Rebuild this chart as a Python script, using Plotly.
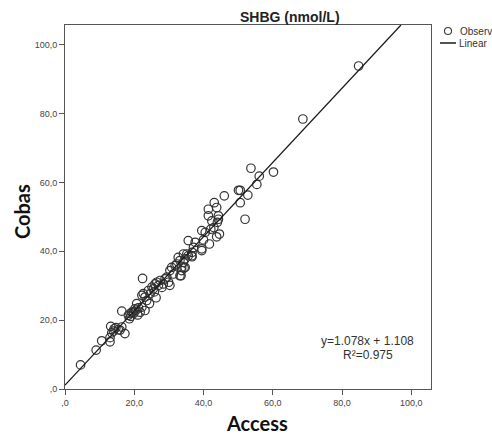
import numpy as np
import plotly.graph_objects as go

access = [4.5, 9.0, 10.6, 13.0, 13.0, 13.5, 13.2, 14.2, 14.7, 15.4, 16.4, 15.9, 17.3,
          16.4, 18.3, 18.8, 19.3, 19.0, 19.7, 20.2, 20.7, 21.2, 21.7, 22.2, 23.1, 22.4,
          22.2, 22.6, 23.1, 23.6, 24.1, 24.4, 24.6, 25.1, 25.5, 26.0, 26.3, 26.5, 27.0,
          27.5, 28.4, 28.9, 29.4, 29.9, 30.3, 30.3, 30.8, 31.3, 31.8, 32.3, 32.7, 33.2,
          33.2, 33.7, 34.2, 34.7, 35.2, 35.6, 36.6, 39.5,
          53.7, 56.1, 60.2, 55.4, 50.1, 50.6, 46.0, 52.8, 50.6, 52.0, 43.1, 41.4, 43.8,
          41.4, 44.3, 42.4, 44.3, 44.0, 39.5, 42.1, 43.0, 44.6, 43.8, 35.6, 37.6, 40.0,
          41.7, 39.5, 37.1, 36.7, 34.2, 34.7, 36.7, 33.7, 34.4, 33.5, 40.5,
          84.8, 68.7, 19.9, 20.5, 21.0, 18.6, 14.0, 25.8, 28.0]
cobas = [7.0, 11.3, 14.0, 13.7, 14.9, 16.3, 18.2, 17.5, 17.8, 17.2, 18.0, 17.1, 16.1,
         22.6, 21.4, 21.9, 22.3, 21.1, 22.3, 23.3, 24.8, 23.6, 22.3, 23.8, 22.8, 32.1,
         27.2, 27.7, 26.7, 25.7, 28.6, 24.8, 27.7, 29.6, 29.1, 30.5, 26.5, 31.0, 30.1,
         31.5, 30.5, 32.0, 32.5, 31.0, 30.1, 34.4, 35.3, 33.4, 35.8, 36.3, 38.2, 37.3,
         32.9, 34.4, 36.8, 35.3, 39.2, 38.7, 38.7, 40.2,
         64.1, 61.8, 63.0, 59.4, 57.7, 57.7, 56.1, 56.3, 54.1, 49.3, 54.1, 52.2, 52.7,
         50.3, 50.3, 48.8, 49.3, 48.4, 46.0, 46.4, 46.9, 45.0, 44.2, 43.1, 42.6, 43.3,
         42.1, 40.7, 41.1, 39.7, 39.2, 37.8, 38.4, 35.4, 35.2, 32.9, 45.5,
         93.8, 78.4, 22.0, 22.9, 21.5, 20.4, 16.8, 28.2, 29.5]

slope = 1.078
intercept = 1.108
r_squared = 0.975

tick_vals = [0, 20, 40, 60, 80, 100]
tick_text = [",0", "20,0", "40,0", "60,0", "80,0", "100,0"]
axis_max = 105.7

fit_x = np.array([0.0, (axis_max - intercept) / slope])
fit_y = slope * fit_x + intercept

fig = go.Figure()
fig.add_trace(go.Scatter(
    x=access, y=cobas, mode="markers", name="Observed",
    marker=dict(symbol="circle-open", size=8.5, color="#333333", line=dict(width=1.2)),
    showlegend=False, cliponaxis=True))
fig.add_trace(go.Scatter(
    x=fit_x, y=fit_y, mode="lines", name="Linear",
    line=dict(color="#1a1a1a", width=1.3), showlegend=False))

tickfont = dict(family="Liberation Sans, Arial, sans-serif", size=9, color="#444444")
axis_common = dict(range=[0, axis_max], tickvals=tick_vals, ticktext=tick_text,
                   showgrid=False, zeroline=False, showline=True, mirror=True,
                   linecolor="#555555", linewidth=1, ticks="outside", ticklen=5,
                   tickcolor="#555555", tickfont=tickfont, automargin=False)
fig.update_xaxes(**axis_common)
fig.update_yaxes(**axis_common)

# Page body margin is removed (post_script), so figure pixels = window pixels.
W, H = 492, 437
ml, mr, mt, mb = 65, 61, 25, 48
pw, ph = W - ml - mr, H - mt - mb
def px(x):  # window pixel -> paper
    return (x - ml) / pw
def py(y):
    return (H - mb - y) / ph

shapes = [
    dict(type="circle", xref="paper", yref="paper",
         x0=px(444.5), x1=px(451.5), y0=py(34.5), y1=py(27.5),
         line=dict(color="#3a3a3a", width=1.1)),
    dict(type="line", xref="paper", yref="paper",
         x0=px(440), x1=px(456), y0=py(43), y1=py(43),
         line=dict(color="#1a1a1a", width=1.5)),
]
legfont = dict(family="Liberation Sans, Arial, sans-serif", size=10, color="#333333")
titlefont = dict(family="Lato, sans-serif", size=20, color="#111111", weight="bold")
eqfont = dict(family="Liberation Sans, Arial, sans-serif", size=12, color="#333333")
annotations = [
    dict(text="Observed", xref="paper", yref="paper", x=px(458), y=py(31),
         xanchor="left", yanchor="middle", showarrow=False, font=legfont),
    dict(text="Linear", xref="paper", yref="paper", x=px(457), y=py(43.5),
         xanchor="left", yanchor="middle", showarrow=False, font=legfont),
    dict(text=f"y={slope:.3f}x + {intercept:.3f}", xref="paper", yref="paper",
         x=px(367), y=py(341), xanchor="center", yanchor="middle", showarrow=False,
         font=eqfont),
    dict(text=f"R²={r_squared:.3f}", xref="paper", yref="paper",
         x=px(368), y=py(355), xanchor="center", yanchor="middle", showarrow=False,
         font=eqfont),
    dict(text="<b>SHBG (nmol/L)</b>", xref="paper", yref="paper",
         x=px(290), y=py(16.5), xanchor="center", yanchor="middle", showarrow=False,
         font=dict(family="Liberation Sans, Arial, sans-serif", size=14, color="#222222")),
    dict(text="Access", xref="paper", yref="paper", x=px(257), y=py(423),
         xanchor="center", yanchor="middle", showarrow=False, font=titlefont),
    dict(text="Cobas", xref="paper", yref="paper", x=px(22), y=py(212),
         xanchor="center", yanchor="middle", showarrow=False, textangle=-90,
         font=titlefont),
]

fig.update_layout(width=W, height=H, margin=dict(l=ml, r=mr, t=mt, b=mb),
                  paper_bgcolor="white", plot_bgcolor="white",
                  shapes=shapes, annotations=annotations, showlegend=False,
                  hovermode=False)

fig.write_html("out.html",
               config={"displayModeBar": False, "staticPlot": True},
               post_script="document.body.style.margin='0';"
                           "document.body.style.overflow='hidden';")
